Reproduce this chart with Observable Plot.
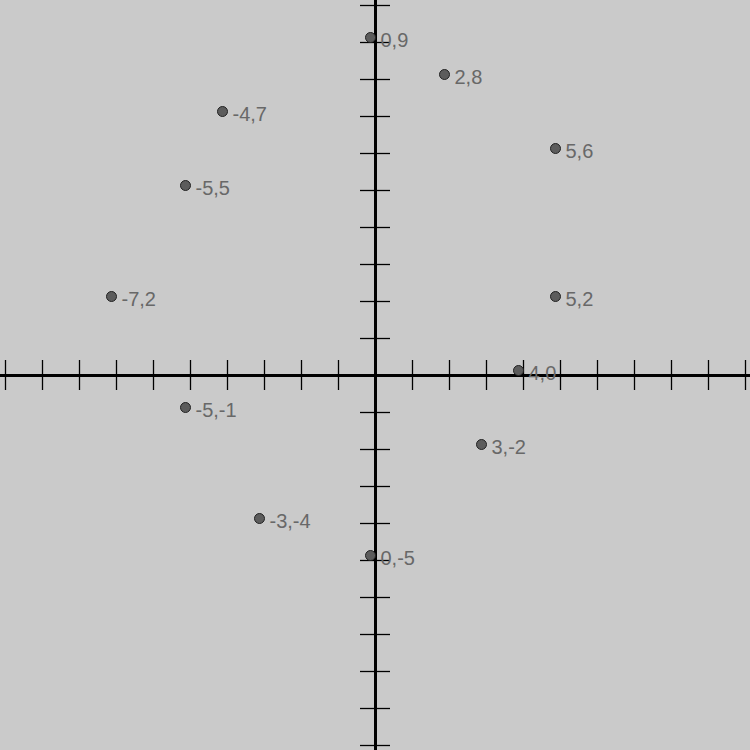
<!DOCTYPE html>
<html>
<head>
<meta charset="utf-8">
<script src="https://cdn.jsdelivr.net/npm/d3@7"></script>
<script src="https://cdn.jsdelivr.net/npm/@observablehq/plot@0.6"></script>
<style>
  html, body { margin: 0; padding: 0; background: #cacaca; }
  #chart svg { display: block; }
</style>
</head>
<body>
<div id="chart"></div>
<script>
// Data points (x, y)
const xs = [0, 2, -4, 5, -5, -7, 5, 4, -5, 3, -3, 0];
const ys = [9, 8, 7, 6, 5, 2, 2, 0, -1, -2, -4, -5];
// Tick values along both axes
const tickValues = [-10, -9, -8, -7, -6, -5, -4, -3, -2, -1, 0, 1, 2, 3, 4, 5, 6, 7, 8, 9, 10];

const points = xs.map((x, i) => ({x, y: ys[i], label: `${x},${ys[i]}`}));
const half = 375 / 37;

const chart = Plot.plot({
  width: 750,
  height: 750,
  margin: 0,
  style: {background: "#cacaca", fontFamily: "'Liberation Sans', Arial, sans-serif"},
  x: {domain: [-half, half], axis: null},
  y: {domain: [-half, half], axis: null},
  marks: [
    // tick marks on x axis
    Plot.ruleX(tickValues, {x: d => d, y1: 0, y2: 0, insetTop: -15, insetBottom: -15, stroke: "black", strokeWidth: 1.3}),
    // tick marks on y axis
    Plot.ruleY(tickValues, {y: d => d, x1: 0, x2: 0, insetLeft: -15, insetRight: -15, stroke: "black", strokeWidth: 1.3}),
    // axes
    Plot.ruleY([0], {stroke: "black", strokeWidth: 3}),
    Plot.ruleX([0], {stroke: "black", strokeWidth: 3}),
    // points
    Plot.dot(points, {x: "x", y: "y", r: 5, dx: -5, dy: -5, fill: "#5c5c5c", stroke: "#222", strokeWidth: 1}),
    // labels
    Plot.text(points, {x: "x", y: "y", text: "label", dx: 5, dy: 4, textAnchor: "start", lineAnchor: "bottom", fill: "#686868", fontSize: 20})
  ]
});
document.getElementById("chart").appendChild(chart);
</script>
</body>
</html>
